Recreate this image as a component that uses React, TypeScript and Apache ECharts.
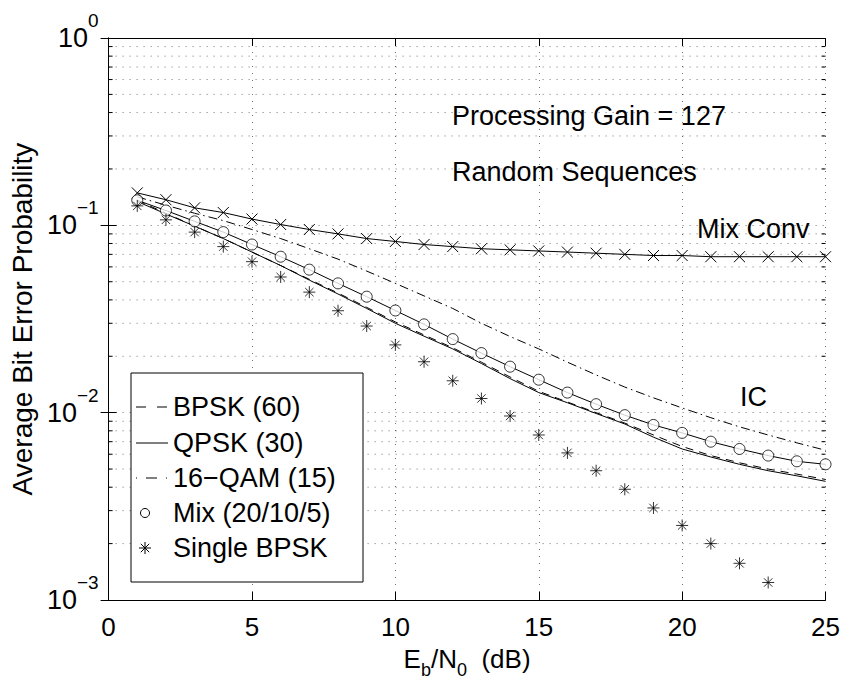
import React, { useEffect, useRef } from "react";
import * as echarts from "echarts";

// ---- data ----
const ebn0 = [1, 2, 3, 4, 5, 6, 7, 8, 9, 10, 11, 12, 13, 14, 15, 16, 17, 18, 19, 20, 21, 22, 23, 24, 25];

const bpsk60 = [0.136, 0.116, 0.099, 0.085, 0.072, 0.061, 0.0515, 0.0435, 0.0365, 0.0305, 0.026, 0.0222, 0.0186, 0.0155, 0.013, 0.0114, 0.01, 0.0088, 0.0076, 0.0066, 0.0059, 0.0054, 0.005, 0.0047, 0.0044];
const qpsk30 = [0.134, 0.115, 0.099, 0.085, 0.072, 0.061, 0.051, 0.043, 0.036, 0.03, 0.0256, 0.0219, 0.0183, 0.0152, 0.0128, 0.0113, 0.0099, 0.0087, 0.0074, 0.0064, 0.0058, 0.0053, 0.0049, 0.0046, 0.0043];
const qam16 = [0.142, 0.128, 0.116, 0.106, 0.095, 0.085, 0.075, 0.066, 0.057, 0.049, 0.042, 0.036, 0.03, 0.0255, 0.0219, 0.0186, 0.0159, 0.0137, 0.012, 0.0106, 0.0094, 0.0084, 0.0076, 0.0069, 0.0063];
const mix = [0.136, 0.12, 0.105, 0.092, 0.079, 0.068, 0.058, 0.049, 0.0416, 0.0351, 0.0296, 0.0247, 0.0208, 0.0176, 0.015, 0.0128, 0.0111, 0.0097, 0.0086, 0.0078, 0.007, 0.0064, 0.0059, 0.0055, 0.0053];
const singleBpsk = [0.127, 0.107, 0.092, 0.077, 0.064, 0.053, 0.044, 0.035, 0.029, 0.023, 0.0187, 0.0148, 0.0119, 0.0096, 0.0076, 0.0061, 0.0049, 0.0039, 0.0031, 0.0025, 0.002, 0.00157, 0.00124];
const mixConv = [0.149, 0.137, 0.124, 0.117, 0.108, 0.101, 0.095, 0.09, 0.085, 0.082, 0.079, 0.077, 0.075, 0.074, 0.073, 0.072, 0.071, 0.07, 0.069, 0.069, 0.068, 0.068, 0.068, 0.068, 0.068];

const yMinorValues = [
  0.002, 0.003, 0.004, 0.005, 0.006, 0.007, 0.008, 0.009,
  0.02, 0.03, 0.04, 0.05, 0.06, 0.07, 0.08, 0.09,
  0.2, 0.3, 0.4, 0.5, 0.6, 0.7, 0.8, 0.9,
];
const yTickExponents = ["\u22123", "\u22122", "\u22121", "0"];
const xTicks = { min: 0, max: 25, interval: 5 };

const legendNames = ["BPSK (60)", "QPSK (30)", "16\u2212QAM (15)", "Mix (20/10/5)", "Single BPSK"];
const annotations = ["Processing Gain = 127", "Random Sequences", "Mix Conv", "IC"];

const FONT = "'Liberation Sans', Arial, Helvetica, sans-serif";
const ASTERISK = "path://M5,0L5,10M0,5L10,5M1.5,1.5L8.5,8.5M1.5,8.5L8.5,1.5";
const XMARK = "path://M0,0L10,10M0,10L10,0";

const pairs = (ys: number[]) => ys.map((y, i) => [ebn0[i], y]);

export default function App() {
  const ref = useRef<HTMLDivElement>(null);
  useEffect(() => {
    const chart = echarts.init(ref.current!, null, { renderer: "svg" });
    const axisLineStyle = { color: "#000", width: 1 };
    const gridDot = { color: "#000", type: [1, 6] as any, width: 1, opacity: 0.55 };
    const lineSeries = (name: string, ys: number[], type: any) => ({
      name,
      type: "line",
      data: pairs(ys),
      symbol: "none",
      lineStyle: { color: "#000", width: 1, type },
      itemStyle: { color: "#000" },
      silent: true,
      z: 3,
    });
    const legendY = [407, 443, 478, 513, 548];
    const textEl = (text: string, x: number, y: number) => ({
      type: "text",
      x,
      y,
      silent: true,
      style: { text, fontSize: 27, fontFamily: FONT, fill: "#000", verticalAlign: "middle", align: "left" },
      z: 10,
    });
    const seg = (x1: number, y1: number, x2: number, y2: number, w = 1, dash?: number[]) => ({
      type: "line",
      silent: true,
      z: 9,
      shape: { x1, y1, x2, y2 },
      style: dash ? { stroke: "#000", lineWidth: w, lineDash: dash } : { stroke: "#000", lineWidth: w },
    });
    const ax = 145;
    const ay = legendY[4];
    const option: any = {
      animation: false,
      backgroundColor: "#fff",
      grid: { left: 104, top: 38, width: 722, height: 569, containLabel: false },
      xAxis: [
        {
          type: "value",
          min: xTicks.min,
          max: xTicks.max,
          interval: xTicks.interval,
          position: "bottom",
          axisLine: { show: true, lineStyle: axisLineStyle },
          axisTick: { show: true, inside: true, length: 8, lineStyle: axisLineStyle },
          axisLabel: { fontSize: 26, color: "#000", fontFamily: FONT, margin: 14 },
          splitLine: { show: true, lineStyle: gridDot },
          name: "{n|E}{sub|b}{n|/N}{sub|0}{n|  (dB)}",
          nameLocation: "middle",
          nameGap: 39,
          nameTextStyle: {
            fontFamily: FONT,
            color: "#000",
            rich: {
              n: { fontSize: 26, lineHeight: 40, fontFamily: FONT, color: "#000", verticalAlign: "middle" },
              sub: { fontSize: 18, lineHeight: 18, fontFamily: FONT, color: "#000", verticalAlign: "bottom" },
            },
          },
        },
        {
          type: "value",
          min: xTicks.min,
          max: xTicks.max,
          interval: xTicks.interval,
          position: "top",
          axisLine: { show: true, lineStyle: axisLineStyle },
          axisTick: { show: true, inside: true, length: 8, lineStyle: axisLineStyle },
          axisLabel: { show: false },
          splitLine: { show: false },
        },
      ],
      yAxis: [
        {
          type: "log",
          logBase: 10,
          min: 0.001,
          max: 1,
          position: "left",
          axisLine: { show: true, lineStyle: axisLineStyle },
          axisTick: { show: true, inside: true, length: 8, lineStyle: axisLineStyle },
          splitLine: { show: true, lineStyle: gridDot },
          axisLabel: {
            margin: 10,
            formatter: (v: number) => {
              const e = Math.round(Math.log10(v));
              return "{b|10}{s|" + yTickExponents[e + 3] + "}";
            },
            rich: {
              b: { fontSize: 27, lineHeight: 54, fontFamily: FONT, color: "#000", verticalAlign: "middle" },
              s: { fontSize: 19, lineHeight: 19, fontFamily: FONT, color: "#000", verticalAlign: "top" },
            },
          },
          name: "Average Bit Error Probability",
          nameLocation: "middle",
          nameRotate: 90,
          nameGap: 66,
          nameTextStyle: { fontSize: 28, fontFamily: FONT, color: "#000" },
        },
        {
          type: "log",
          logBase: 10,
          min: 0.001,
          max: 1,
          position: "right",
          axisLine: { show: true, lineStyle: axisLineStyle },
          axisTick: { show: true, inside: true, length: 8, lineStyle: axisLineStyle },
          axisLabel: { show: false },
          splitLine: { show: false },
        },
      ],
      series: [
        {
          name: "minor",
          type: "custom",
          silent: true,
          z: 1,
          data: yMinorValues.map((v) => [xTicks.min, v]),
          renderItem: (params: any, api: any) => {
            const v = api.value(1);
            const a = api.coord([xTicks.min, v]);
            const b = api.coord([xTicks.max, v]);
            return {
              type: "group",
              children: [
                {
                  type: "line",
                  shape: { x1: a[0], y1: a[1], x2: b[0], y2: b[1] },
                  style: { stroke: "#000", lineWidth: 1, lineDash: [1, 6], opacity: 0.55 },
                },
                { type: "line", shape: { x1: a[0], y1: a[1], x2: a[0] + 4, y2: a[1] }, style: { stroke: "#000", lineWidth: 1 } },
                { type: "line", shape: { x1: b[0] - 4, y1: b[1], x2: b[0], y2: b[1] }, style: { stroke: "#000", lineWidth: 1 } },
              ],
            };
          },
        },
        lineSeries(legendNames[0], bpsk60, [8, 6]),
        lineSeries(legendNames[1], qpsk30, "solid"),
        lineSeries(legendNames[2], qam16, [9, 4, 1.5, 4]),
        lineSeries("Mix line", mix, "solid"),
        {
          name: legendNames[3],
          type: "scatter",
          data: pairs(mix),
          symbol: "circle",
          symbolSize: 11,
          itemStyle: { color: "#fff", borderColor: "#000", borderWidth: 1 },
          silent: true,
          z: 5,
        },
        {
          name: legendNames[4],
          type: "scatter",
          data: pairs(singleBpsk),
          symbol: ASTERISK,
          symbolSize: 12,
          itemStyle: { color: "#000", borderColor: "#000", borderWidth: 1 },
          silent: true,
          z: 5,
        },
        {
          name: annotations[2],
          type: "line",
          data: pairs(mixConv),
          symbol: XMARK,
          symbolSize: 11,
          showSymbol: true,
          lineStyle: { color: "#000", width: 1 },
          itemStyle: { color: "#000", borderColor: "#000", borderWidth: 1 },
          silent: true,
          z: 4,
        },
      ],
      graphic: [
        textEl(annotations[0], 452, 116),
        textEl(annotations[1], 452, 172),
        textEl(annotations[2], 697, 229),
        textEl(annotations[3], 740, 397),
        {
          type: "rect",
          shape: { x: 131, y: 373, width: 232, height: 209 },
          style: { fill: "#fff", stroke: "#000", lineWidth: 1 },
          z: 8,
          silent: true,
        },
        seg(136, legendY[0], 168, legendY[0], 1, [10, 11]),
        seg(136, legendY[1], 168, legendY[1], 1),
        seg(136, legendY[2], 168, legendY[2], 1, [1, 9, 11, 9, 1, 9]),
        {
          type: "circle",
          shape: { cx: 145, cy: legendY[3], r: 4.5 },
          style: { fill: "#fff", stroke: "#000", lineWidth: 1 },
          z: 9,
          silent: true,
        },
        seg(ax, ay - 6, ax, ay + 6),
        seg(ax - 6, ay, ax + 6, ay),
        seg(ax - 4.2, ay - 4.2, ax + 4.2, ay + 4.2),
        seg(ax - 4.2, ay + 4.2, ax + 4.2, ay - 4.2),
        ...legendNames.map((n, i) => textEl(n, 173, legendY[i])),
      ],
    };
    chart.setOption(option);
    return () => chart.dispose();
  }, []);
  return (
    <div
      ref={ref}
      style={{ position: "fixed", left: 0, top: 0, width: 843, height: 684, background: "#fff" }}
    />
  );
}
